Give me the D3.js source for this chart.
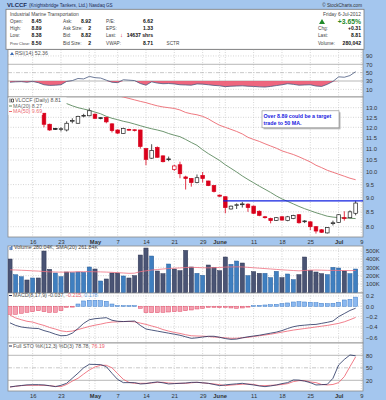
<!DOCTYPE html>
<html><head><meta charset="utf-8">
<script src="https://cdn.jsdelivr.net/npm/d3@7"></script>
<style>
body{margin:0;background:#a4c6ee;}
svg{display:block;font-family:"Liberation Sans",Arial,sans-serif;}
</style></head><body>
<script>
// ---- data (62 trading days, 10-Apr-2012 .. 6-Jul-2012) ----
var opens = [null,null,null,null,null,null,12.71,12.15,11.95,11.9,11.87,12.31,12.2,12.57,12.58,12.66,12.48,12.5,12.17,11.87,
  11.7,11.9,11.88,11.87,11.0,10.58,11.05,10.68,10.52,10.1,10.3,9.8,9.74,9.58,9.86,9.64,9.46,9.1,9.04,8.6,
  8.72,8.76,8.77,8.7,8.52,8.33,8.27,8.21,8.33,8.2,8.27,8.4,8.17,8.16,8.0,7.9,7.8,8.1,8.14,8.3,8.3,8.45];
var highs = [null,null,null,null,null,null,12.72,12.18,11.97,12.0,12.3,12.45,12.58,12.68,12.97,12.7,12.5,12.52,12.2,11.9,
  11.98,11.93,11.9,11.88,11.0,11.2,11.1,10.7,10.65,10.3,10.43,9.85,9.76,9.9,10.0,9.65,9.48,9.12,9.05,8.72,
  8.8,8.85,8.8,8.72,8.55,8.36,8.3,8.32,8.35,8.36,8.4,8.42,8.22,8.18,8.02,7.92,7.99,8.2,8.42,8.52,8.55,8.89];
var lows = [null,null,null,null,null,null,12.0,11.83,11.87,11.8,11.8,12.2,12.18,12.5,12.55,12.42,12.4,12.2,11.75,11.68,
  11.68,11.83,11.8,11.0,10.28,10.55,10.6,10.4,10.45,10.05,9.75,9.31,9.42,9.55,9.58,9.44,9.2,9.04,8.45,8.58,
  8.6,8.65,8.5,8.43,8.35,8.27,8.11,8.19,8.2,8.18,8.25,8.1,8.12,7.89,7.78,7.8,7.78,8.04,8.12,8.2,8.28,8.38];
var closes = [null,null,null,null,null,null,12.15,11.87,11.9,11.93,12.2,12.34,12.55,12.6,12.84,12.45,12.46,12.27,11.84,11.72,
  11.95,11.87,11.85,11.1,10.53,10.92,10.62,10.43,10.55,10.25,9.93,9.74,9.58,9.77,9.74,9.46,9.24,9.06,8.65,8.7,
  8.75,8.78,8.65,8.45,8.38,8.3,8.2,8.3,8.22,8.33,8.37,8.13,8.19,8.0,7.86,7.82,7.97,8.13,8.4,8.28,8.5,8.81];
var ma20 = [null,null,null,null,null,null,null,null,null,13.32,13.22,13.1,13.0,12.93,12.86,12.77,12.68,12.55,12.45,12.38,
  12.3,12.24,12.16,12.08,12.0,11.93,11.87,11.8,11.7,11.62,11.55,11.42,11.28,11.15,10.95,10.78,10.63,10.48,10.3,10.15,
  10.0,9.84,9.7,9.57,9.44,9.32,9.2,9.07,8.96,8.87,8.78,8.69,8.61,8.54,8.47,8.41,8.35,8.32,8.3,8.29,8.28,8.27];
var ma50 = [null,null,null,null,null,null,null,null,null,null,null,null,null,null,null,null,null,null,null,13.65,
  13.58,13.5,13.42,13.34,13.27,13.18,13.1,13.04,13.0,12.96,12.88,12.75,12.68,12.63,12.55,12.42,12.25,12.1,12.0,11.9,
  11.8,11.68,11.52,11.42,11.33,11.22,11.12,11.02,10.9,10.82,10.74,10.64,10.53,10.42,10.28,10.18,10.07,9.99,9.91,9.83,9.75,9.69];
var targetLevel = 8.89, targetFrom = 38;

var volume = [400,211,187,148,172,172,496,276,232,187,244,236,244,240,304,280,136,160,232,232,
  196,172,200,448,532,436,256,224,340,280,260,504,304,228,204,328,300,260,424,336,
  376,352,200,248,228,228,176,252,176,220,152,212,424,264,244,224,212,300,292,256,224,280];
var volUp = [0,1,1,0,1,0,0,0,1,1, 0,1,1,1,1,0,1,0,0,0, 1,0,0,0,0,1,0,0,1,0, 0,0,0,1,1,0,0,0,0,1,
  1,0,1,0,0,1,1,1,0,1, 1,0,0,0,0,0,1,1,1,0, 1,1];
var volSma = [270,268,265,262,258,255,250,246,244,242,243,245,247,248,248,247,245,243,240,236,
  232,228,230,248,258,268,274,280,286,290,293,298,300,298,295,294,296,298,303,305,
  306,305,300,295,290,285,280,275,270,266,262,258,262,266,268,266,264,263,262,262,261,261.84];

var rsi = [27,28,28.5,27,29,26,21,19.5,20,21,29,31,36,35,41,38,37,32,27,26,
  33,32,31,24,20,28,25,23.5,24,23,21,20.5,20,23,22.5,21,19.5,18.5,16.5,17.5,
  18,18.5,17.5,17,16,15.5,17,19,21,23.5,22,20,20.5,21,18,17,22,29,40,39,43,52.36];

var macd = [-0.32,-0.37,-0.4,-0.415,-0.425,-0.43,-0.47,-0.5,-0.54,-0.57,-0.565,-0.52,-0.43,-0.33,-0.26,-0.24,-0.23,-0.22,-0.27,-0.29,
  -0.295,-0.29,-0.285,-0.37,-0.44,-0.46,-0.48,-0.5,-0.52,-0.54,-0.56,-0.59,-0.62,-0.61,-0.595,-0.58,-0.58,-0.6,-0.625,-0.64,
  -0.635,-0.61,-0.59,-0.575,-0.56,-0.54,-0.52,-0.5,-0.47,-0.43,-0.395,-0.375,-0.365,-0.355,-0.35,-0.33,-0.31,-0.285,-0.2,-0.14,-0.08,-0.037];
var signal = [-0.17,-0.225,-0.26,-0.29,-0.305,-0.34,-0.37,-0.41,-0.44,-0.475,-0.49,-0.48,-0.45,-0.42,-0.39,-0.365,-0.345,-0.32,-0.305,-0.3,
  -0.295,-0.293,-0.3,-0.325,-0.35,-0.38,-0.41,-0.45,-0.48,-0.505,-0.525,-0.55,-0.57,-0.575,-0.578,-0.585,-0.595,-0.6,-0.61,-0.62,
  -0.618,-0.61,-0.6,-0.585,-0.57,-0.555,-0.54,-0.52,-0.5,-0.48,-0.46,-0.445,-0.43,-0.415,-0.4,-0.385,-0.37,-0.35,-0.33,-0.3,-0.26,-0.215];
var hist = [-0.155,-0.155,-0.136,-0.117,-0.104,-0.085,-0.104,-0.117,-0.117,-0.085,-0.02,-0.007,0.045,0.104,0.117,0.117,0.11,0.097,0.045,0.013,
  0.013,0.013,0.013,-0.039,-0.123,-0.123,-0.123,-0.117,-0.11,-0.104,-0.097,-0.085,-0.071,-0.052,-0.039,-0.02,-0.02,-0.026,-0.02,-0.032,
  -0.039,-0.032,-0.007,0.013,0.019,0.026,0.032,0.039,0.052,0.065,0.084,0.091,0.084,0.078,0.071,0.058,0.052,0.058,0.078,0.123,0.136,0.178];

var stoK = [4,6,7.5,9,9.5,9.5,8.8,7,4.8,8,12.8,25,37,50,58.4,58,57.6,52.8,36.8,22,
  14.4,14.4,14.4,11.2,12,14.4,16,14,11.2,12,12.8,13.5,15,15.2,14,12.8,10,7.2,9,10.4,
  11.5,12.8,10.5,8.8,6.5,4.8,6.5,8.8,12,14.4,20.8,20.4,18,14.4,8.8,9.5,10.4,24.8,56.8,70,80.8,78.78];
var stoD = [4,5.5,7.2,8,8,8,8,7,5.5,4.8,10,18,24.8,35,44.8,52,56,56,50,36,
  22.4,15,12.8,12.8,12.8,13.5,15.2,15.2,13.5,12.8,12.8,12.8,14,15.2,14,12.5,11.2,9.5,7.2,8.5,
  9.6,10.5,11.2,10,7.2,7.2,8,8.5,10,12,16.8,19.2,19.2,16,14.4,10,8.8,10,14.4,28.8,52.8,76.19];

var gridIdx = [4,9,14,15,19,24,29,34,37,38,43,48,53,58,62];
var tickIdx = [4,9,15,19,24,29,34,37,43,48,53,58,62];
var tickLab = ['16','23','May','7','14','21','29','June','11','18','25','Jul','9'];
var months = ['May','June','Jul'];

var priceTicks = [13.0,12.5,12.0,11.5,11.0,10.5,10.0,9.5,9.0,8.5,8.0];
var rsiTicks = [90,70,50,30,10];
var volTicks = [500,400,300,200,100];
var macdTicks = [0.2,0.0,-0.2,-0.4,-0.6];
var stoTicks = [80,50,20];

// ---- layout ----
var W = 386, H = 400, left = 8, right = 363;
var P = {
  rsi:   {top: 49.5, bot: 97},
  price: {top: 97, bot: 237},
  vol:   {top: 246, bot: 293},
  macd:  {top: 293, bot: 343},
  sto:   {top: 343, bot: 391}
};
var RED = '#d9001b', NAVY = '#22305e', PINK = '#ec5570';

var svg = d3.select('body').append('svg').attr('width', W).attr('height', H);
svg.append('rect').attr('width', W).attr('height', H).attr('fill', '#a4c6ee');

var x = d3.scaleLinear().domain([-0.35, 62.3]).range([left, right]);
var yP = d3.scaleLog().domain([8, 13]).range([226.7, 107.7]);
var yR = d3.scaleLinear().domain([30, 70]).range([81, 64.3]);
var yV = d3.scaleLinear().domain([0, 500]).range([292.3, 250.7]);
var yM = d3.scaleLinear().domain([-0.6, 0.2]).range([337.3, 296]);
var yS = d3.scaleLinear().domain([20, 80]).range([380.3, 355.3]);

// panels
Object.keys(P).forEach(function(k){
  svg.append('rect').attr('x', left).attr('y', P[k].top).attr('width', right - left)
    .attr('height', P[k].bot - P[k].top).attr('fill', '#fff').attr('stroke', '#8a8a8a').attr('stroke-width', 0.8);
  svg.append('clipPath').attr('id', 'clip-' + k).append('rect')
    .attr('x', left).attr('y', P[k].top).attr('width', right - left).attr('height', P[k].bot - P[k].top);
  // weekly grid
  svg.append('g').selectAll('line').data(gridIdx).enter().append('line')
    .attr('x1', function(d){return x(d);}).attr('x2', function(d){return x(d);})
    .attr('y1', P[k].top).attr('y2', P[k].bot)
    .attr('stroke', '#c4c4c4').attr('stroke-width', 0.7).attr('stroke-dasharray', '1,1.5');
});

function hgrid(vals, y, dash, color) {
  svg.append('g').selectAll('line').data(vals).enter().append('line')
    .attr('x1', left).attr('x2', right)
    .attr('y1', function(d){return y(d);}).attr('y2', function(d){return y(d);})
    .attr('stroke', color || '#c4c4c4').attr('stroke-width', 0.7).attr('stroke-dasharray', dash);
}
function rightAxis(y, vals, fmt) {
  var g = svg.append('g').attr('transform', 'translate(' + right + ',0)')
    .call(d3.axisRight(y).tickValues(vals).tickFormat(fmt).tickSize(0).tickPadding(3));
  g.select('.domain').remove();
  g.selectAll('text').attr('font-size', 5.8).attr('fill', '#333').attr('font-family', '"Liberation Sans",Arial,sans-serif');
}
function dateAxis(ypos) {
  var g = svg.append('g').attr('transform', 'translate(0,' + ypos + ')')
    .call(d3.axisBottom(x).tickValues(tickIdx).tickFormat(function(d, i){return tickLab[i];}).tickSize(0).tickPadding(0));
  g.select('.domain').remove();
  g.selectAll('text').attr('font-size', 5.8).attr('fill', '#333').attr('font-family', '"Liberation Sans",Arial,sans-serif')
    .attr('font-weight', function(d, i){return months.indexOf(tickLab[i]) >= 0 ? 'bold' : 'normal';});
}
function legend(items, xx, yy) {
  var t = svg.append('text').attr('x', xx).attr('y', yy).attr('font-size', 5.3);
  items.forEach(function(it){ t.append('tspan').attr('fill', it[1]).text(it[0]); });
  return t;
}

// ---- header ----
svg.append('text').attr('x', 7).attr('y', 7.4).attr('font-size', 6).attr('font-weight', 'bold').attr('fill', '#1b2a55').text('VLCCF');
svg.append('text').attr('x', 29).attr('y', 7.2).attr('font-size', 4.6).attr('fill', '#1b2a55').text('(Knightsbridge Tankers, Ltd.)  Nasdaq GS');
svg.append('text').attr('x', 362).attr('y', 7).attr('font-size', 4.6).attr('fill', '#333').attr('text-anchor', 'end').text('© StockCharts.com');
svg.append('rect').attr('x', 6).attr('y', 9.3).attr('width', 358).attr('height', 40).attr('fill', '#fff').attr('stroke', '#7a7a7a').attr('stroke-width', 0.8);

var hdrRows = [22.6, 30, 37.3, 44.8];
var col1 = [['Open:', '8.45'], ['High:', '8.89'], ['Low:', '8.38'], ['Prev Close:', '8.50']];
var col2 = [['Ask:', '8.92'], ['Ask Size:', '2'], ['Bid:', '8.82'], ['Bid Size:', '2']];
var col3 = [['P/E:', '6.62'], ['EPS:', '1.33'], ['Last:', ''], ['VWAP:', '8.71']];
var col4 = [['Chg:', '+0.31'], ['Last:', '8.81'], ['Volume:', '280,042']];
function hdrCol(rows, lx, vx, r0, longSize) {
  rows.forEach(function(r, i){
    var yy = hdrRows[i + r0];
    svg.append('text').attr('x', lx).attr('y', yy)
      .attr('font-size', (longSize && r[0].length > 8) ? longSize : 4.7).attr('fill', '#444').text(r[0]);
    svg.append('text').attr('x', vx).attr('y', yy).attr('font-size', 5.1).attr('font-weight', 'bold')
      .attr('text-anchor', 'end').attr('fill', '#111').text(r[1]);
  });
}
svg.append('text').attr('x', 10).attr('y', 15.6).attr('font-size', 4.9).attr('fill', '#444').text('Industrial Marine Transportation');
hdrCol(col1, 10, 41.5, 0, 3.9);
hdrCol(col2, 63, 91, 0);
hdrCol(col3, 106, 153, 0);
svg.append('text').attr('x', 120).attr('y', hdrRows[2]).attr('font-size', 5.8).attr('font-weight', 'bold').attr('fill', RED).text('↓');
svg.append('text').attr('x', 153).attr('y', hdrRows[2]).attr('font-size', 5.1).attr('font-weight', 'bold')
  .attr('text-anchor', 'end').attr('fill', '#111').text('14637 shrs');
svg.append('text').attr('x', 166.5).attr('y', hdrRows[3]).attr('font-size', 4.7).attr('fill', '#444').text('SCTR');
svg.append('text').attr('x', 361).attr('y', 15.6).attr('font-size', 4.9).attr('text-anchor', 'end').attr('fill', '#444').text('Friday  6-Jul-2012');
svg.append('path').attr('d', 'M319,24 L322,19 L325,24 Z').attr('fill', '#1f8a2a');
svg.append('text').attr('x', 361).attr('y', 23.6).attr('font-size', 6.8).attr('font-weight', 'bold')
  .attr('text-anchor', 'end').attr('fill', '#1f8a2a').text('+3.65%');
hdrCol(col4, 318, 361, 1);

// ---- RSI ----
hgrid([90, 10], yR, '1,1.5');
hgrid([70, 30], yR, null, '#9a9a9a');
hgrid([50], yR, '4,1.5,1,1.5', '#b0b0b0');
var gR = svg.append('g').attr('clip-path', 'url(#clip-rsi)');
gR.append('path').datum(rsi).attr('fill', PINK).attr('opacity', 0.9)
  .attr('d', d3.area().x(function(d, i){return x(i);}).y0(yR(30)).y1(function(d){return yR(Math.min(d, 30));}));
gR.append('path').datum(rsi).attr('fill', 'none').attr('stroke', '#4a5a80').attr('stroke-width', 0.8)
  .attr('d', d3.line().x(function(d, i){return x(i);}).y(function(d){return yR(d);}));
rightAxis(yR, rsiTicks, d3.format('d'));
svg.append('path').attr('d', 'M10,55 L12,52 L14,55 Z').attr('fill', '#3a6bb5');
legend([['RSI(14) 52.36', '#555']], 15, 55);

// ---- price ----
hgrid(priceTicks, yP, '1,1.5');
var gP = svg.append('g').attr('clip-path', 'url(#clip-price)');
var lineOf = function(y){ return d3.line().defined(function(d){return d != null;})
  .x(function(d, i){return x(i);}).y(function(d){return y(d);}); };
gP.append('path').datum(ma50).attr('fill', 'none').attr('stroke', '#ec6a72').attr('stroke-width', 0.9).attr('d', lineOf(yP));
gP.append('path').datum(ma20).attr('fill', 'none').attr('stroke', '#5e8a60').attr('stroke-width', 0.9).attr('d', lineOf(yP));

var cIdx = d3.range(opens.length).filter(function(i){return opens[i] != null;});
function cCol(i){ return (closes[i - 1] == null || closes[i] < closes[i - 1]) ? RED : '#222'; }
var bw = 3.6;
var cg = gP.append('g').selectAll('g').data(cIdx).enter().append('g');
cg.append('line')
  .attr('x1', function(i){return x(i);}).attr('x2', function(i){return x(i);})
  .attr('y1', function(i){return yP(highs[i]);}).attr('y2', function(i){return yP(lows[i]);})
  .attr('stroke', cCol).attr('stroke-width', 0.8);
cg.append('rect')
  .attr('x', function(i){return x(i) - bw / 2;}).attr('width', bw)
  .attr('y', function(i){return yP(Math.max(opens[i], closes[i]));})
  .attr('height', function(i){return Math.max(0.8, Math.abs(yP(opens[i]) - yP(closes[i])));})
  .attr('fill', function(i){return closes[i] < opens[i] ? cCol(i) : '#fff';})
  .attr('stroke', cCol).attr('stroke-width', 0.7);

gP.append('line').attr('x1', x(targetFrom) - 2).attr('x2', right)
  .attr('y1', yP(targetLevel)).attr('y2', yP(targetLevel)).attr('stroke', '#1020e0').attr('stroke-width', 1.4);

// note box
svg.append('rect').attr('x', 263.5).attr('y', 112.3).attr('width', 77).attr('height', 17).attr('fill', '#b8b8b8');
svg.append('rect').attr('x', 262).attr('y', 110.8).attr('width', 77).attr('height', 17).attr('fill', '#fff').attr('stroke', '#888').attr('stroke-width', 0.6);
svg.append('text').attr('x', 263.5).attr('y', 117.8).attr('font-size', 5.3).attr('font-weight', 'bold').attr('fill', '#1a1ae0').text('Over 8.89 could be a target');
svg.append('text').attr('x', 263.5).attr('y', 125).attr('font-size', 5.3).attr('font-weight', 'bold').attr('fill', '#1a1ae0').text('trade to 50 MA.');

// legend (white backing hides what sits under it)
svg.append('rect').attr('x', left + 0.5).attr('y', P.price.top + 0.5).attr('width', 58).attr('height', 6.5).attr('fill', '#fff');
svg.append('rect').attr('x', left + 0.5).attr('y', P.price.top + 6).attr('width', 34).attr('height', 12).attr('fill', '#fff');
svg.append('path').attr('d', 'M10,98.5 v4 M11.5,99 h2 v3 h-2 z').attr('stroke', '#222').attr('fill', 'none').attr('stroke-width', 0.7);
legend([['VLCCF (Daily) 8.81', '#555']], 15, 102.3);
svg.append('line').attr('x1', 9).attr('x2', 12).attr('y1', 106).attr('y2', 106).attr('stroke', '#5e8a60');
legend([['MA(20) 8.27', '#666']], 13, 107.8);
svg.append('line').attr('x1', 9).attr('x2', 12).attr('y1', 111.5).attr('y2', 111.5).attr('stroke', '#ec6a72');
legend([['MA(50) 9.69', '#ec6a72']], 13, 113.3);
rightAxis(yP, priceTicks, d3.format('.1f'));
dateAxis(240);

// ---- volume ----
hgrid(volTicks, yV, '1,1.5');
var gV = svg.append('g').attr('clip-path', 'url(#clip-vol)');
gV.selectAll('rect').data(volume).enter().append('rect')
  .attr('x', function(d, i){return x(i) - 2.1;}).attr('width', 4.2)
  .attr('y', function(d){return yV(d);}).attr('height', function(d){return yV(0) - yV(d);})
  .attr('fill', function(d, i){return volUp[i] ? '#3f7fc0' : '#4a5474';})
  .attr('stroke', function(d, i){return volUp[i] ? '#2c5f98' : '#2c3452';}).attr('stroke-width', 0.5);
gV.append('path').datum(volSma).attr('fill', 'none').attr('stroke', '#f07080').attr('stroke-width', 0.8).attr('d', lineOf(yV));
rightAxis(yV, volTicks, function(d){return d + 'K';});
svg.append('path').attr('d', 'M9.5,250 v-3 h1.2 v3 M11.2,250 v-4 h1.2 v4').attr('fill', '#3a6bb5');
legend([['Volume 280.04K, SMA(20) 261.84K', '#444']], 14, 249.3);

// ---- MACD ----
hgrid(macdTicks, yM, '1,1.5');
var gM = svg.append('g').attr('clip-path', 'url(#clip-macd)');
gM.selectAll('rect').data(hist).enter().append('rect')
  .attr('x', function(d, i){return x(i) - 2;}).attr('width', 4)
  .attr('y', function(d){return Math.min(yM(d), yM(0));})
  .attr('height', function(d){return Math.max(0.8, Math.abs(yM(d) - yM(0)));})
  .attr('fill', function(d){return d < 0 ? '#f4a0b0' : '#8ab8f0';})
  .attr('stroke', function(d){return d < 0 ? '#e04a66' : '#3e7cc8';}).attr('stroke-width', 0.5);
gM.append('path').datum(signal).attr('fill', 'none').attr('stroke', '#ee6070').attr('stroke-width', 0.8).attr('d', lineOf(yM));
gM.append('path').datum(macd).attr('fill', 'none').attr('stroke', NAVY).attr('stroke-width', 0.8).attr('d', lineOf(yM));
rightAxis(yM, macdTicks, d3.format('.1f'));
svg.append('line').attr('x1', 9).attr('x2', 12).attr('y1', 295.5).attr('y2', 295.5).attr('stroke', NAVY);
legend([['MACD(8,17,9) -0.037, ', '#555'], ['-0.215, ', '#ee6070'], ['0.178', '#6a9ee0']], 13, 297.3);

// ---- Full stochastics ----
hgrid([80, 20], yS, null, '#9a9a9a');
hgrid([50], yS, '4,1.5,1,1.5', '#b0b0b0');
var gS = svg.append('g').attr('clip-path', 'url(#clip-sto)');
gS.append('path').datum(stoD).attr('fill', 'none').attr('stroke', '#ee5a6a').attr('stroke-width', 0.8).attr('d', lineOf(yS));
gS.append('path').datum(stoK).attr('fill', 'none').attr('stroke', NAVY).attr('stroke-width', 0.8).attr('d', lineOf(yS));
rightAxis(yS, stoTicks, d3.format('d'));
svg.append('line').attr('x1', 9).attr('x2', 12).attr('y1', 346).attr('y2', 346).attr('stroke', NAVY);
legend([['Full STO %K(12,3) %D(3) 78.78, ', '#555'], ['76.19', '#ee5a6a']], 13, 347.8);
dateAxis(394);
</script>
</body></html>
